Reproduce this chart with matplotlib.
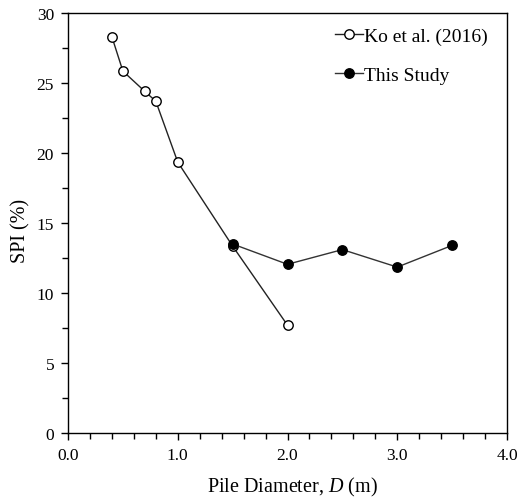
import matplotlib
matplotlib.use("Agg")
import matplotlib.pyplot as plt
from matplotlib.ticker import MultipleLocator, FormatStrFormatter

plt.rcParams['font.family'] = ['Liberation Serif', 'DejaVu Serif']
plt.rcParams['mathtext.fontset'] = 'custom'
plt.rcParams['mathtext.it'] = 'Liberation Serif:italic'
plt.rcParams['mathtext.rm'] = 'Liberation Serif'

# Ko et al. (2016)
ko_d = [0.4, 0.5, 0.7, 0.8, 1.0, 1.5, 2.0]
ko_spi = [28.3, 25.85, 24.4, 23.7, 19.35, 13.35, 7.7]

# This study
ts_d = [1.5, 2.0, 2.5, 3.0, 3.5]
ts_spi = [13.5, 12.05, 13.1, 11.85, 13.4]

fig = plt.figure(figsize=(5.19, 5.02), dpi=100)
ax = fig.add_axes([68/519, 1 - 434/502, (507-68)/519, (434-14)/502])

ax.plot(ko_d, ko_spi, '-o', color='#222222', lw=1.0, ms=6.8,
        mfc='white', mec='black', mew=1.0, label='Ko et al. (2016)', zorder=2)
ax.plot(ts_d, ts_spi, '-o', color='#333333', lw=1.0, ms=6.8,
        mfc='black', mec='black', mew=1.0, label='This Study', zorder=3)

ax.set_xlim(0, 4.0)
ax.set_ylim(0, 30)
ax.xaxis.set_major_locator(MultipleLocator(1.0))
ax.xaxis.set_minor_locator(MultipleLocator(0.2))
ax.xaxis.set_major_formatter(FormatStrFormatter('%.1f'))
ax.yaxis.set_major_locator(MultipleLocator(5))
ax.yaxis.set_minor_locator(MultipleLocator(2.5))
ax.tick_params(which='both', direction='out', top=False, right=False,
               labelsize=12.5, width=1.0, color='black', pad=5)
ax.tick_params(which='major', length=5)
ax.tick_params(which='minor', length=4)
for s in ax.spines.values():
    s.set_linewidth(1.0)
    s.set_color('black')

ax.set_xlabel('Pile Diameter, $D$ (m)', fontsize=14.5, labelpad=9)
ax.set_ylabel('SPI (%)', fontsize=14.5, labelpad=4.5)
ax.xaxis.label.set_x(0.512)
ax.yaxis.label.set_y(0.483)

ax.legend(loc='upper right', bbox_to_anchor=(0.970, 0.9795), frameon=False,
          fontsize=14, handlelength=1.45, handletextpad=0.05,
          labelspacing=1.1, borderaxespad=0.0, borderpad=0.3)

fig.savefig('out.png', dpi=100)
